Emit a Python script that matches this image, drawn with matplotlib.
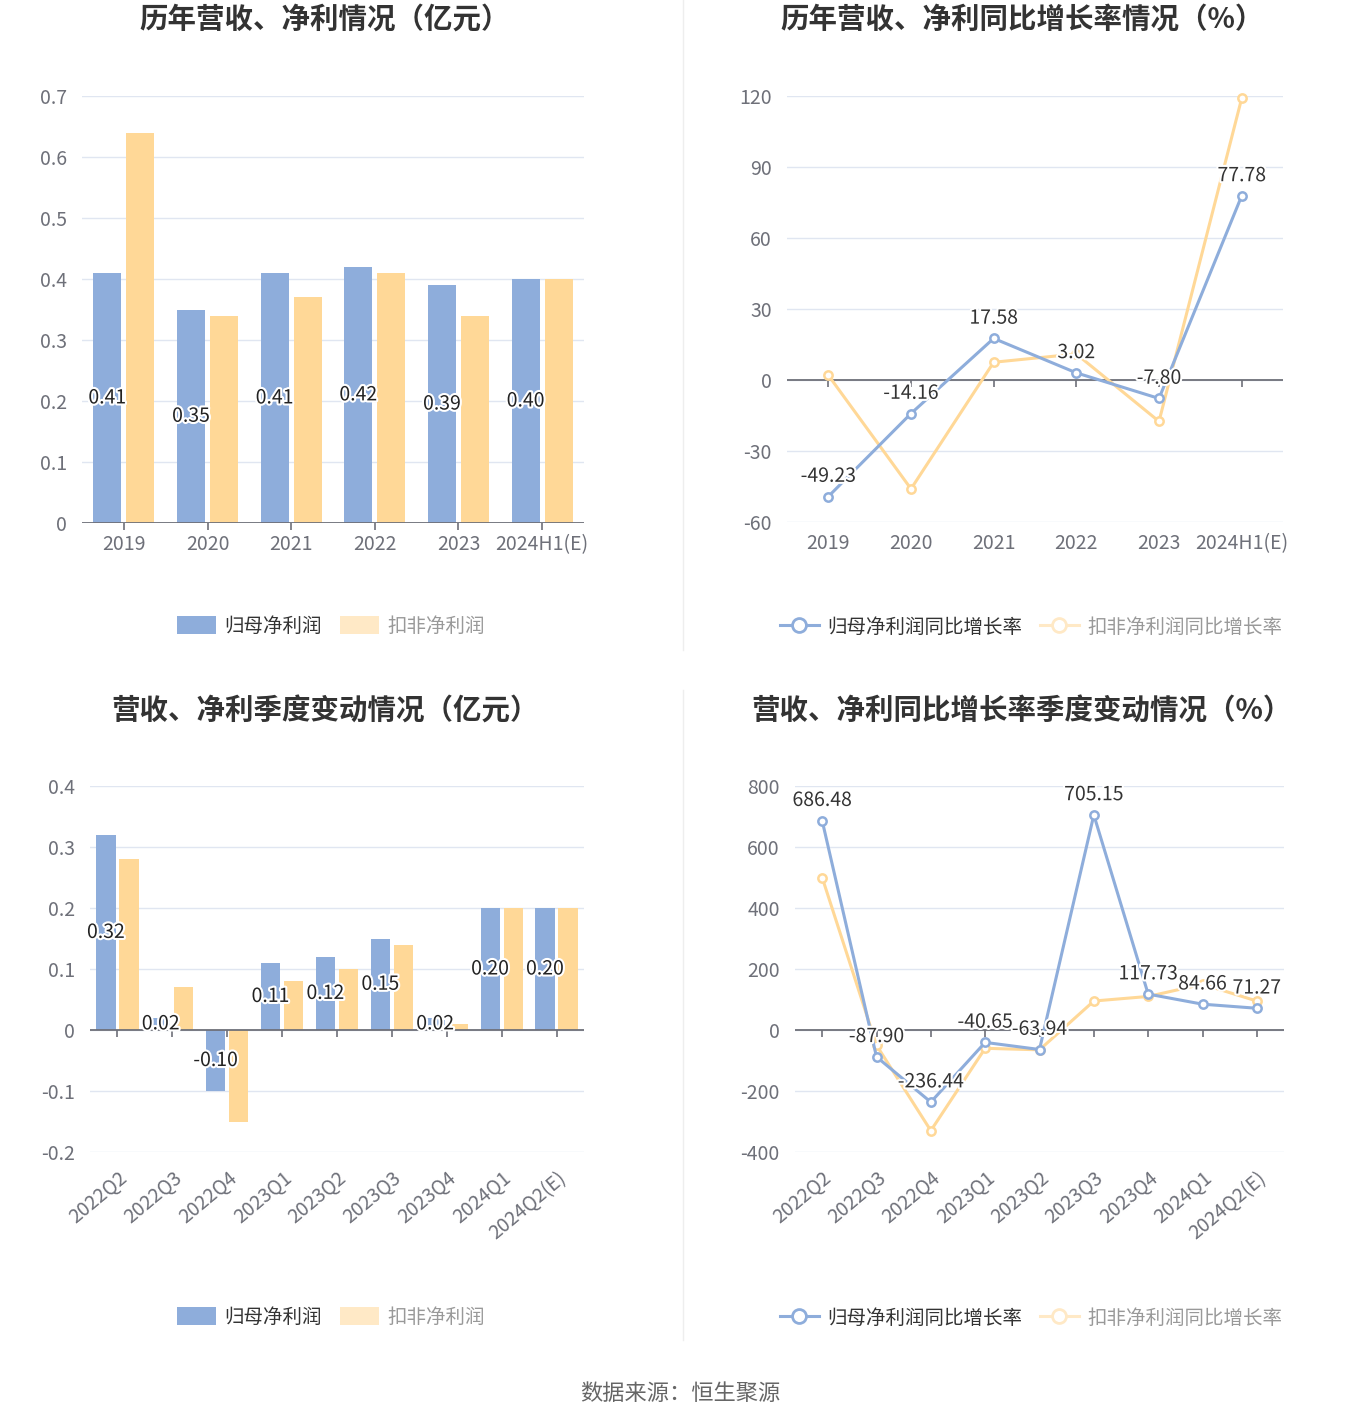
#Recreate the four-panel profit chart
import numpy as np
import matplotlib.pyplot as plt
import matplotlib.patheffects as pe
from matplotlib.lines import Line2D
from matplotlib.patches import Patch

plt.rcParams['font.family'] = ['Noto Sans CJK SC', 'DejaVu Sans']

#Data
years = ['2019', '2020', '2021', '2022', '2023', '2024H1(E)']
np_year = [0.41, 0.35, 0.41, 0.42, 0.39, 0.40]
kf_year = [0.64, 0.34, 0.37, 0.41, 0.34, 0.40]
np_year_g = [-49.23, -14.16, 17.58, 3.02, -7.80, 77.78]
kf_year_g = [2.0, -46.0, 7.5, 11.0, -17.5, 119.0]

quarters = ['2022Q2', '2022Q3', '2022Q4', '2023Q1', '2023Q2', '2023Q3', '2023Q4', '2024Q1', '2024Q2(E)']
np_q = [0.32, 0.02, -0.10, 0.11, 0.12, 0.15, 0.02, 0.20, 0.20]
kf_q = [0.28, 0.07, -0.15, 0.08, 0.10, 0.14, 0.01, 0.20, 0.20]
np_q_g = [686.48, -87.90, -236.44, -40.65, -63.94, 705.15, 117.73, 84.66, 71.27]
kf_q_g = [500.0, -50.0, -330.0, -60.0, -65.0, 95.0, 110.0, 150.0, 95.0]

blue = '#8EADDB'
yellow = '#FFD897'
yellow_light = '#FFE9C6'
grid_c = '#E0E6F1'
axis_c = '#6E7079'
txt_c = '#6E7079'

W, H = 1360, 1425
fig = plt.figure(figsize=(W / 100, H / 100), dpi=100)

def box(l, t, r, b):
    return [l / W, 1 - b / H, (r - l) / W, (b - t) / H]

ax_tl = fig.add_axes(box(82, 96, 584, 523))
ax_tr = fig.add_axes(box(787, 96, 1283, 522))
ax_bl = fig.add_axes(box(90, 786, 584, 1152))
ax_br = fig.add_axes(box(795, 786, 1284, 1152))

def base(ax, cats, yticks, fmt, rot=0):
    n = len(cats)
    x = np.arange(n)
    ax.set_xlim(-0.5, n - 0.5)
    ax.set_ylim(yticks[0], yticks[-1])
    ax.set_yticks(yticks)
    ax.set_yticklabels([fmt(v) for v in yticks])
    ax.grid(axis='y', color=grid_c, lw=1)
    ax.set_axisbelow(True)
    for s in ax.spines.values():
        s.set_visible(False)
    ax.tick_params(axis='y', length=0, pad=11, labelsize=14, labelcolor=txt_c)
    ax.set_xticks(x)
    if rot:
        ax.set_xticklabels(cats, rotation=rot, ha='right', rotation_mode='anchor')
        ax.tick_params(axis='x', length=0, pad=11, labelsize=14, labelcolor=txt_c)
    else:
        ax.set_xticklabels(cats)
        ax.tick_params(axis='x', length=0, pad=8, labelsize=14, labelcolor=txt_c)
    #zero axis line with tick marks at category centres
    ax.axhline(0, color=axis_c, lw=1.3, zorder=3)
    ax.plot(x, np.zeros(n), ls='none', marker=3, ms=5, mew=1.2, color=axis_c, zorder=3, clip_on=False)
    return x

def num(v):
    return '0' if v == 0 else ('%g' % v)

stroke = [pe.withStroke(linewidth=3, foreground='white')]

def bars(ax, cats, a, b, yticks, w, gap, rot=0):
    x = base(ax, cats, yticks, num, rot)
    ax.bar(x - w / 2 - gap / 2, a, width=w, color=blue, zorder=2)
    ax.bar(x + w / 2 + gap / 2, b, width=w, color=yellow, zorder=2)
    for xi, v in zip(x, a):
        ax.text(xi - w / 2 - gap / 2, v / 2, '%.2f' % v, ha='center', va='center', fontsize=14,
                color='#222222', path_effects=stroke, zorder=5)

def lines(ax, cats, a, b, yticks, rot=0):
    x = base(ax, cats, yticks, num, rot)
    ax.plot(x, b, color=yellow, lw=2.2, marker='o', ms=6, mfc='white', mec=yellow, mew=1.8, zorder=4, clip_on=False)
    ax.plot(x, a, color=blue, lw=2.2, marker='o', ms=6, mfc='white', mec=blue, mew=1.8, zorder=5, clip_on=False)
    for xi, v in zip(x, a):
        ax.annotate('%.2f' % v, (xi, v), xytext=(0, 7), textcoords='offset points', ha='center',
                    va='bottom', fontsize=14, color='#333333', path_effects=stroke, zorder=6)

bars(ax_tl, years, np_year, kf_year, [0, 0.1, 0.2, 0.3, 0.4, 0.5, 0.6, 0.7], 0.335, 0.06)
lines(ax_tr, years, np_year_g, kf_year_g, [-60, -30, 0, 30, 60, 90, 120])
bars(ax_bl, quarters, np_q, kf_q, [-0.2, -0.1, 0, 0.1, 0.2, 0.3, 0.4], 0.35, 0.07, rot=40)
lines(ax_br, quarters, np_q_g, kf_q_g, [-400, -200, 0, 200, 400, 600, 800], rot=40)

#Titles
tkw = dict(ha='center', va='center', fontsize=20.5, fontweight='bold', color='#333333')
fig.text(325 / W, 1 - 20 / H, '历年营收、净利情况（亿元）', **tkw)
fig.text(1022 / W, 1 - 20 / H, '历年营收、净利同比增长率情况（%）', **tkw)
fig.text(325 / W, 1 - 712 / H, '营收、净利季度变动情况（亿元）', **tkw)
fig.text(1022 / W, 1 - 712 / H, '营收、净利同比增长率季度变动情况（%）', **tkw)

#Legends
bar_handles = [Patch(facecolor=blue, edgecolor='none'), Patch(facecolor=yellow_light, edgecolor='none')]
bar_labels = ['归母净利润', '扣非净利润']
line_handles = [Line2D([], [], color=blue, lw=2.2, marker='o', ms=10, mfc='white', mew=2),
                Line2D([], [], color=yellow_light, lw=2.2, marker='o', ms=10, mfc='white', mew=2)]
line_labels = ['归母净利润同比增长率', '扣非净利润同比增长率']

def leg(handles, labels, cx, cy, hl):
    lg = fig.legend(handles, labels, loc='center', bbox_to_anchor=(cx / W, 1 - cy / H), ncol=2,
                    frameon=False, fontsize=14, handlelength=hl, handleheight=1.1,
                    columnspacing=0.9, handletextpad=0.45)
    lg.get_texts()[0].set_color('#333333')
    lg.get_texts()[1].set_color('#999999')

leg(bar_handles, bar_labels, 331, 626, 2.0)
leg(bar_handles, bar_labels, 331, 1317, 2.0)
leg(line_handles, line_labels, 1031, 627, 2.0)
leg(line_handles, line_labels, 1031, 1318, 2.0)

#Separators and source
fig.add_artist(Line2D([683 / W, 683 / W], [1, 1 - 650 / H], color='#EEEEEE', lw=1))
fig.add_artist(Line2D([683 / W, 683 / W], [1 - 690 / H, 1 - 1340 / H], color='#EEEEEE', lw=1))
fig.text(680 / W, 1 - 1394 / H, '数据来源：恒生聚源', ha='center', va='center', fontsize=16, color='#666666')

fig.savefig('out.png', dpi=100, facecolor='white')
